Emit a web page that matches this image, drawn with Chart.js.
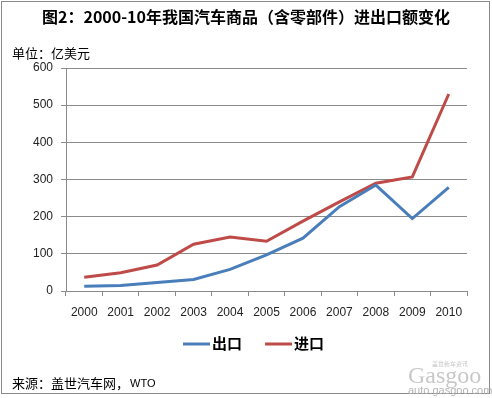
<!DOCTYPE html>
<html>
<head>
<meta charset="utf-8">
<script src="https://cdn.jsdelivr.net/npm/chart.js@4/dist/chart.umd.min.js"></script>
<style>
  html, body { margin: 0; padding: 0; background: #fff; }
  #wrap { width: 492px; height: 398px; }
</style>
</head>
<body>
<div id="wrap"><canvas id="chart" width="492" height="398"></canvas></div>
<script>
const years = ['2000', '2001', '2002', '2003', '2004', '2005', '2006', '2007', '2008', '2009', '2010'];
const exportValues = [13, 15, 23, 31, 58, 97, 142, 227, 285, 195, 279];
const importValues = [37, 49, 70, 126, 145, 134, 188, 240, 290, 307, 530];
const seriesNames = ['出口', '进口'];
const seriesColors = ['#4a7ebb', '#be4b48'];

const titleText = '图2：2000-10年我国汽车商品（含零部件）进出口额变化';
const unitText = '单位：亿美元';
const sourceText = '来源：盖世汽车网，';

const cjk = '"Noto Sans CJK SC", "Noto Sans", sans-serif';
const latin = '"Liberation Sans", Arial, sans-serif';

// frame, title, unit label, legend, source and watermark
const decorations = {
    id: 'decorations',
    beforeDraw: (chart) => {
        const ctx = chart.ctx;
        ctx.save();
        ctx.fillStyle = '#fff';
        ctx.fillRect(0, 0, chart.width, chart.height);
        ctx.strokeStyle = '#8a8a8a';
        ctx.lineWidth = 1;
        ctx.strokeRect(1.5, 1.5, 488, 392);
        ctx.restore();
    },
    afterDraw: (chart) => {
        const ctx = chart.ctx;
        ctx.save();
        ctx.textBaseline = 'middle';

        ctx.fillStyle = '#000';
        ctx.textAlign = 'center';
        ctx.font = 'bold 16px ' + cjk;
        ctx.fillText(titleText, 246, 17);

        ctx.textAlign = 'left';
        ctx.font = '13px ' + cjk;
        ctx.fillText(unitText, 12, 53);

        // legend
        const legendItems = [[183, 212], [265, 294]];
        legendItems.forEach(([lx, tx], i) => {
            ctx.strokeStyle = seriesColors[i];
            ctx.lineWidth = 3;
            ctx.beginPath();
            ctx.moveTo(lx, 344);
            ctx.lineTo(lx + 27, 344);
            ctx.stroke();
            ctx.fillStyle = '#000';
            ctx.font = 'bold 15px ' + cjk;
            ctx.fillText(seriesNames[i], tx, 343);
        });

        // source
        ctx.fillStyle = '#000';
        ctx.font = '13px ' + cjk;
        ctx.fillText(sourceText, 12, 383);
        const w = ctx.measureText(sourceText).width;
        ctx.font = '11px ' + latin;
        ctx.fillText('WTO', 12 + w + 1, 384);

        // watermark
        ctx.fillStyle = '#c8c8c8';
        ctx.font = '6px ' + cjk;
        ctx.fillText('盖世新车资讯', 432, 364);
        ctx.font = '24px "Liberation Serif", serif';
        ctx.fillText('Gasgoo', 408, 377);
        ctx.font = '11px ' + latin;
        ctx.fillStyle = '#b4b4b4';
        ctx.fillText('auto.gasgoo.com', 408, 391);
        ctx.restore();
    }
};

const ctx = document.getElementById('chart').getContext('2d');
new Chart(ctx, {
    type: 'line',
    data: {
        labels: years,
        datasets: [{
            label: seriesNames[0],
            data: exportValues,
            borderColor: seriesColors[0],
            backgroundColor: seriesColors[0],
            borderWidth: 3,
            pointRadius: 0,
            tension: 0
        }, {
            label: seriesNames[1],
            data: importValues,
            borderColor: seriesColors[1],
            backgroundColor: seriesColors[1],
            borderWidth: 3,
            pointRadius: 0,
            tension: 0
        }]
    },
    options: {
        responsive: false,
        animation: false,
        events: [],
        layout: {
            padding: { top: 68, right: 25, bottom: 77, left: 0 }
        },
        plugins: {
            legend: { display: false },
            title: { display: false },
            tooltip: { enabled: false }
        },
        scales: {
            x: {
                offset: true,
                afterFit: (scale) => { scale.height = 30; },
                grid: {
                    offset: true,
                    drawOnChartArea: false,
                    drawTicks: true,
                    tickLength: 5,
                    color: '#8a8a8a'
                },
                border: { color: '#8a8a8a' },
                ticks: {
                    padding: 9,
                    color: '#222',
                    font: { family: latin, size: 12 },
                    maxRotation: 0,
                    autoSkip: false
                }
            },
            y: {
                min: 0,
                max: 600,
                afterFit: (scale) => { scale.width = 66; },
                grid: {
                    color: '#8a8a8a',
                    tickLength: 5
                },
                border: { color: '#8a8a8a' },
                ticks: {
                    stepSize: 100,
                    padding: 8,
                    color: '#222',
                    font: { family: latin, size: 12 }
                }
            }
        }
    },
    plugins: [decorations]
});
</script>
</body>
</html>
